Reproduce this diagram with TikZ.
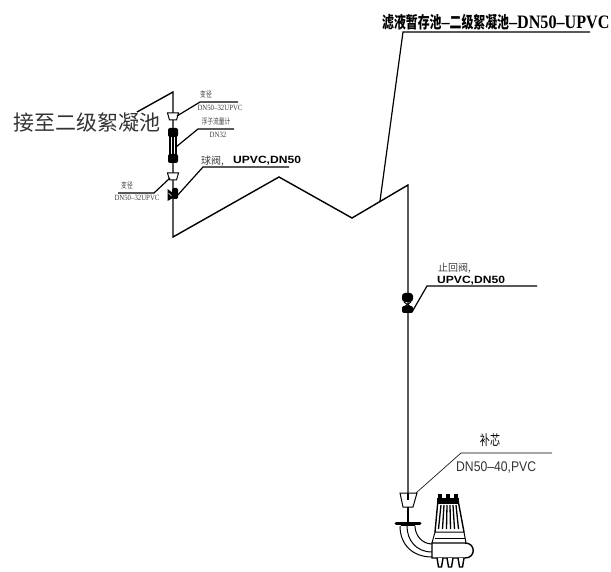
\documentclass[tikz,border=0pt]{standalone}
\usepackage{fontspec}
\newfontfamily\cjk{Noto Sans CJK SC}
\newfontfamily\narrowcjk[FakeStretch=0.72]{Noto Sans CJK SC}
\newfontfamily\narrowsans[FakeStretch=0.87]{Liberation Sans}
\newfontfamily\narrowserif[FakeStretch=0.85]{Liberation Serif}
\newfontfamily\widesans[FakeStretch=1.15]{Liberation Sans}
\tikzset{
  pipe/.style={line width=1.4pt, black},
  leader/.style={line width=1.2pt, black},
  thinleader/.style={line width=0.6pt, black},
  part/.style={line width=1pt, black},
  note/.style={inner sep=0pt, anchor=base, text=black!75},
  tiny note/.style={note, font=\narrowcjk\fontsize{8}{8}\selectfont},
  tiny latin/.style={note, font=\narrowserif\fontsize{8}{8}\selectfont},
  small cjk/.style={inner sep=0pt, anchor=base west, text=black!75, font=\cjk\fontsize{10}{10}\selectfont},
  bold latin/.style={inner sep=0pt, anchor=base west, font=\widesans\bfseries\fontsize{10.5}{10.5}\selectfont},
}
\begin{document}
\begin{tikzpicture}[x=1pt,y=-1pt]
\useasboundingbox (0,0) rectangle (611,572);
%трубы
\coordinate (topfree) at (137,112);
\coordinate (topbend) at (173,92);
\coordinate (lowbend) at (173,237);
\coordinate (peak) at (279,177);
\coordinate (valley) at (352,218);
\coordinate (riser) at (408,185);
\coordinate (pumpin) at (408,494);
\draw[pipe] (topfree) -- (topbend) -- (lowbend) -- (peak) -- (valley) -- (riser) -- (pumpin);
\draw[pipe] (408,507) -- (408,522);
%переходы
\foreach \x/\y in {173/113, 173/173}{
  \draw[part, fill=white] (\x-5.5,\y) -- (\x+5.5,\y) -- (\x+3.5,\y+7) -- (\x-3.5,\y+7) -- cycle;
}
\draw[part, fill=white] (400,493) -- (417,493) -- (413,507) -- (403,507) -- cycle;
\draw[pipe] (408,493) -- (408,500);
%расходомер
\fill[rounded corners=2pt] (168,128) rectangle (178,137);
\fill[rounded corners=2pt] (168,154) rectangle (178,163);
\draw[line width=1.6pt] (170,136) -- (170,155) (176,136) -- (176,155);
\draw[pipe] (173,136) -- (173,155);
%шаровой кран
\fill (167.5,189) -- (173,193) -- (173,198) -- (167.5,201) -- cycle;
\fill[rounded corners=1.5pt] (172,188) rectangle (178,199);
\draw[white, line width=0.6pt] (168.5,193) -- (171.5,196);
%обратный клапан
\fill[rounded corners=3pt] (402,293) rectangle (413,302);
\fill[rounded corners=2pt] (402,306) rectangle (413,313);
\draw[part] (404,302) -- (411,307) (411,302) -- (404,307);
%выноски
\coordinate (maina) at (380,201);
\coordinate (mainb) at (403,32);
\coordinate (mainc) at (590,32);
\draw[leader] (maina) -- (mainb) -- (mainc);
\draw[leader] (177,116) -- (200,102) -- (238,102);
\draw[leader] (176,147) -- (198,129) -- (234,129);
\draw[leader] (176,197) -- (203,167) -- (289,167);
\draw[leader] (170,178) -- (154,193) -- (118,193);
\draw[leader] (412,312) -- (427,286) -- (537,286);
\draw[thinleader] (416,493) -- (461,453) -- (552,453);
%надписи
\node[inner sep=0pt, anchor=west, text=black!80, font=\cjk\fontsize{21}{21}\selectfont] (feed) at (13,123) {接至二级絮凝池};
\node[inner sep=0pt, anchor=base west, font=\narrowcjk\bfseries\fontsize{16.5}{16.5}\selectfont] (title) at (382,29) {滤液暂存池{\narrowserif\fontsize{19}{19}\selectfont –}二级絮凝池{\narrowserif\fontsize{19}{19}\selectfont –DN50–UPVC}};
\node[tiny note] (reducera) at (206,98) {变径};
\node[tiny latin] (reducerb) at (220,111) {DN50–32UPVC};
\node[tiny note] (meter) at (216,125) {浮子流量计};
\node[tiny latin] (meterb) at (218,138) {DN32};
\node[tiny note] (reducerc) at (127,189) {变径};
\node[tiny latin] (reducerd) at (137,201) {DN50–32UPVC};
\node[small cjk] (ball) at (201,165) {球阀,};
\node[bold latin] (ballb) at (233,164) {UPVC,DN50};
\node[small cjk] (check) at (438,272) {止回阀,};
\node[bold latin] (checkb) at (437,284) {UPVC,DN50};
\node[inner sep=0pt, anchor=base, font=\narrowcjk\fontsize{14}{14}\selectfont] (bush) at (490,445) {补芯};
\node[inner sep=0pt, anchor=base west, text=black!80, font=\narrowsans\fontsize{14}{14}\selectfont] (bushb) at (456,471) {DN50–40,PVC};
%насос
\draw[line width=3pt, line cap=round] (396,523) -- (420,523);
\draw[part] (401,525) -- (415,525);
\draw[part] (400,526) .. controls (400,545) and (413,557) .. (432,557);
\draw[part] (407,526) .. controls (407,540) and (416,552) .. (432,552);
\draw[part] (415,526) .. controls (415,535) and (422,544) .. (432,544);
\draw[pipe] (432,543) -- (465,543) .. controls (476,543) and (476,558) .. (465,558) -- (432,558) -- cycle;
\draw[part] (435,532) -- (464,532) -- (466,543) (435,532) -- (432,543);
\draw[part] (434.5,538) -- (465,538);
\draw[pipe] (438,500) -- (458,500) -- (464,532) (438,500) -- (435,532);
\fill (437,498) rectangle (459,504);
\foreach \x in {440,448,456}{
  \fill (\x-2,494) rectangle (\x+2,499);
}
\foreach \i in {0,...,5}{
  \draw[line width=1.3pt] (441+\i*3,505) -- (438.5+\i*4,529);
}
\foreach \x in {440,450,461}{
  \draw[pipe, fill=white] (\x-3,558) -- (\x-1.5,567) -- (\x+1.5,567) -- (\x+3,558);
}
\end{tikzpicture}
\end{document}
